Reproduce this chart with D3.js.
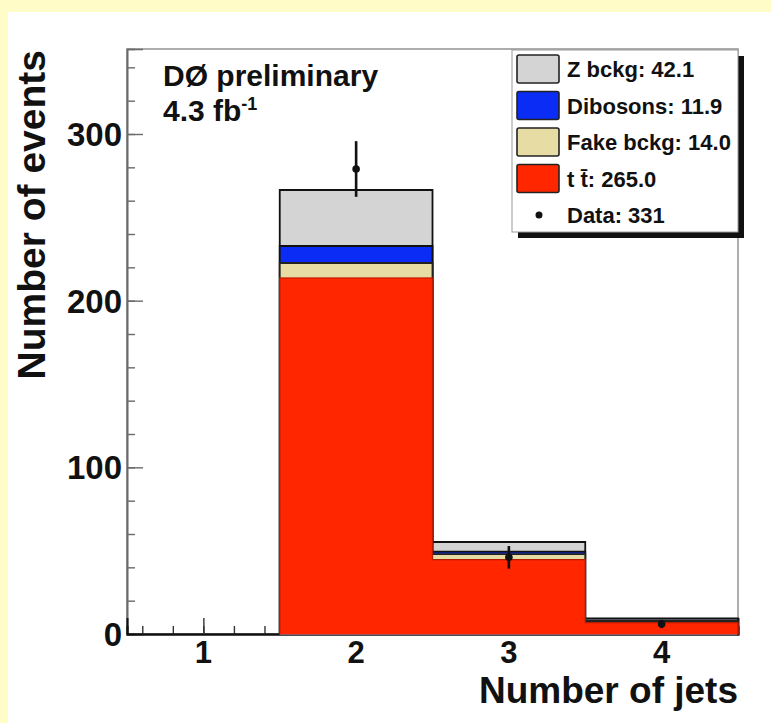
<!DOCTYPE html>
<html>
<head>
<meta charset="utf-8">
<script src="https://cdn.jsdelivr.net/npm/d3@7"></script>
<style>
  html, body { margin: 0; padding: 0; background: #fffcc8; }
  svg { display: block; }
  text { font-family: "Liberation Sans", Arial, Helvetica, sans-serif; font-weight: bold; fill: #111; }
</style>
</head>
<body>
<svg id="chart" width="771" height="723"></svg>
<script>
// Jet multiplicity, stacked expectation vs. data
const jetBins = [1, 2, 3, 4];
const ttbar = [0, 213.6, 44.6, 6.8];
const fakeBkg = [0, 9.0, 3.3, 1.0];
const dibosons = [0, 10.2, 1.5, 0.4];
const zBkg = [0, 33.6, 5.8, 1.2];
const dataCounts = [0, 279, 46, 6];

const yTicks = [0, 100, 200, 300];
const xTicks = [1, 2, 3, 4];

const legendLabels = ["Z bckg: 42.1", "Dibosons: 11.9", "Fake bckg: 14.0", "t t\u0304: 265.0", "Data: 331"];

const colors = { z: "#d4d4d4", dib: "#0a2cf5", fake: "#e6dca4", tt: "#ff2600" };

const W = 771, H = 723;
const margin = { left: 127, top: 49, right: 33, bottom: 89 };
const plotR = W - margin.right, plotB = H - margin.bottom;

const svg = d3.select("#chart");

// white canvas panel on the yellow page
svg.append("rect").attr("x", 8).attr("y", 12).attr("width", W - 8).attr("height", H - 12).attr("fill", "#ffffff");

const x = d3.scaleLinear().domain([0.5, 4.5]).range([margin.left, plotR]);
const y = d3.scaleLinear().domain([0, 351]).range([plotB, margin.top]);

// frame
svg.append("rect")
  .attr("x", margin.left).attr("y", margin.top)
  .attr("width", plotR - margin.left).attr("height", plotB - margin.top)
  .attr("fill", "none").attr("stroke", "#8a8a8a").attr("stroke-width", 1.4);

// y axis: major ticks every 100, minor every 20, drawn inside the frame
const yAxis = d3.axisRight(y).tickValues(yTicks).tickSize(16).tickFormat("");
const yMinor = d3.axisRight(y).tickValues(d3.range(0, 351, 20)).tickSize(8).tickFormat("");
const gy = svg.append("g").attr("transform", `translate(${margin.left},0)`);
gy.call(yMinor);
gy.append("g").call(yAxis);
gy.selectAll("path.domain").attr("stroke", "#6a6a6a").attr("stroke-width", 1.6);
gy.selectAll(".tick line").attr("stroke", "#6a6a6a").attr("stroke-width", 1.4);

// x axis: major ticks at integers, minor every 0.2
const xAxis = d3.axisTop(x).tickValues(xTicks).tickSize(16).tickFormat("");
const xMinor = d3.axisTop(x).tickValues(d3.range(0.6, 4.5, 0.2)).tickSize(8).tickFormat("");
const gx = svg.append("g").attr("transform", `translate(0,${plotB})`);
gx.call(xMinor);
gx.append("g").call(xAxis);
gx.selectAll("path.domain").attr("stroke", "#111").attr("stroke-width", 2);
gx.selectAll(".tick line").attr("stroke", "#333").attr("stroke-width", 1.4);

// tick labels
svg.append("g").selectAll("text").data(yTicks).join("text")
  .attr("x", margin.left - 5).attr("y", d => y(d)).attr("dy", "0.36em")
  .attr("text-anchor", "end").style("font-size", "33px").text(d => d);
svg.append("g").selectAll("text").data(xTicks).join("text")
  .attr("x", d => x(d)).attr("y", 663)
  .attr("text-anchor", "middle").style("font-size", "31px").text(d => d);

// axis titles
svg.append("text").attr("x", plotR).attr("y", 703).attr("text-anchor", "end")
  .style("font-size", "37px").text("Number of jets");
svg.append("text").attr("transform", `translate(45,${margin.top + 1}) rotate(-90)`)
  .attr("text-anchor", "end").style("font-size", "39px").text("Number of events");

// stacked histograms
const rows = jetBins.map((b, i) => ({ bin: b, tt: ttbar[i], fake: fakeBkg[i], dib: dibosons[i], z: zBkg[i] }));
const keys = ["tt", "fake", "dib", "z"];
const stacked = d3.stack().keys(keys)(rows);

// step outline of one cumulative layer, starting at its first non-empty bin
function histPoints(layer) {
  const first = layer.findIndex(d => d[1] > 0);
  const pts = [[jetBins[first] - 0.5, 0]];
  layer.forEach((d, i) => {
    if (i < first) return;
    const b = jetBins[i];
    pts.push([b - 0.5, d[1]], [b + 0.5, d[1]]);
  });
  pts.push([4.5, 0]);
  return pts;
}
const line = d3.line().x(p => x(p[0])).y(p => y(p[1]));

const strokeFor = { z: "#111", dib: "#111", fake: "#222", tt: "#b41c00" };
const hg = svg.append("g");
// paint the cumulative layers from the tallest down so each lower one sits on top
stacked.slice().reverse().forEach(layer => {
  const pts = histPoints(layer);
  hg.append("path").attr("d", line(pts) + "Z").attr("fill", colors[layer.key])
    .attr("stroke", colors[layer.key]).attr("stroke-width", 0.6);
  hg.append("path").attr("d", line(pts.slice(0, -1).concat([[4.5, y.invert(plotB + 1)]])))
    .attr("fill", "none")
    .attr("stroke", strokeFor[layer.key])
    .attr("stroke-width", layer.key === "tt" ? 1.2 : 1.8);
});

// data points with Poisson errors
const pts = jetBins.map((b, i) => ({ bin: b, n: dataCounts[i] })).filter(d => d.n > 0);
const dg = svg.append("g");
dg.selectAll("line").data(pts).join("line")
  .attr("x1", d => x(d.bin)).attr("x2", d => x(d.bin))
  .attr("y1", d => y(d.n + Math.sqrt(d.n))).attr("y2", d => y(d.n - Math.sqrt(d.n)))
  .attr("stroke", "#111").attr("stroke-width", 2.6);
dg.selectAll("circle").data(pts).join("circle")
  .attr("cx", d => x(d.bin)).attr("cy", d => y(d.n)).attr("r", 3.8).attr("fill", "#111");

// experiment label
svg.append("text").attr("x", 163).attr("y", 86).style("font-size", "30px").text("D\u00d8 preliminary");
const lumi = svg.append("text").attr("x", 163).attr("y", 121).style("font-size", "30px");
lumi.append("tspan").text("4.3 fb");
lumi.append("tspan").attr("dy", -11).style("font-size", "18px").text("-1");

// legend
const lg = svg.append("g");
const lx = 512, ly = 50, lw = 226, lh = 182;
lg.append("rect").attr("x", lx + 6).attr("y", ly + 6).attr("width", lw).attr("height", lh).attr("fill", "#111");
lg.append("rect").attr("x", lx).attr("y", ly).attr("width", lw).attr("height", lh)
  .attr("fill", "#fff").attr("stroke", "#999").attr("stroke-width", 1);
const legendFill = [colors.z, colors.dib, colors.fake, colors.tt];
const rowY = i => 69 + i * 36.5;
legendLabels.forEach((lab, i) => {
  if (i < 4) {
    lg.append("rect").attr("x", 517).attr("y", rowY(i) - 14).attr("width", 42).attr("height", 28)
      .attr("rx", 2).attr("fill", legendFill[i]).attr("stroke", "#222").attr("stroke-width", 1.6);
  } else {
    lg.append("circle").attr("cx", 539).attr("cy", rowY(i)).attr("r", 3.5).attr("fill", "#111");
  }
  lg.append("text").attr("x", 567).attr("y", rowY(i) + 8).style("font-size", "22px").text(lab);
});
</script>
</body>
</html>
